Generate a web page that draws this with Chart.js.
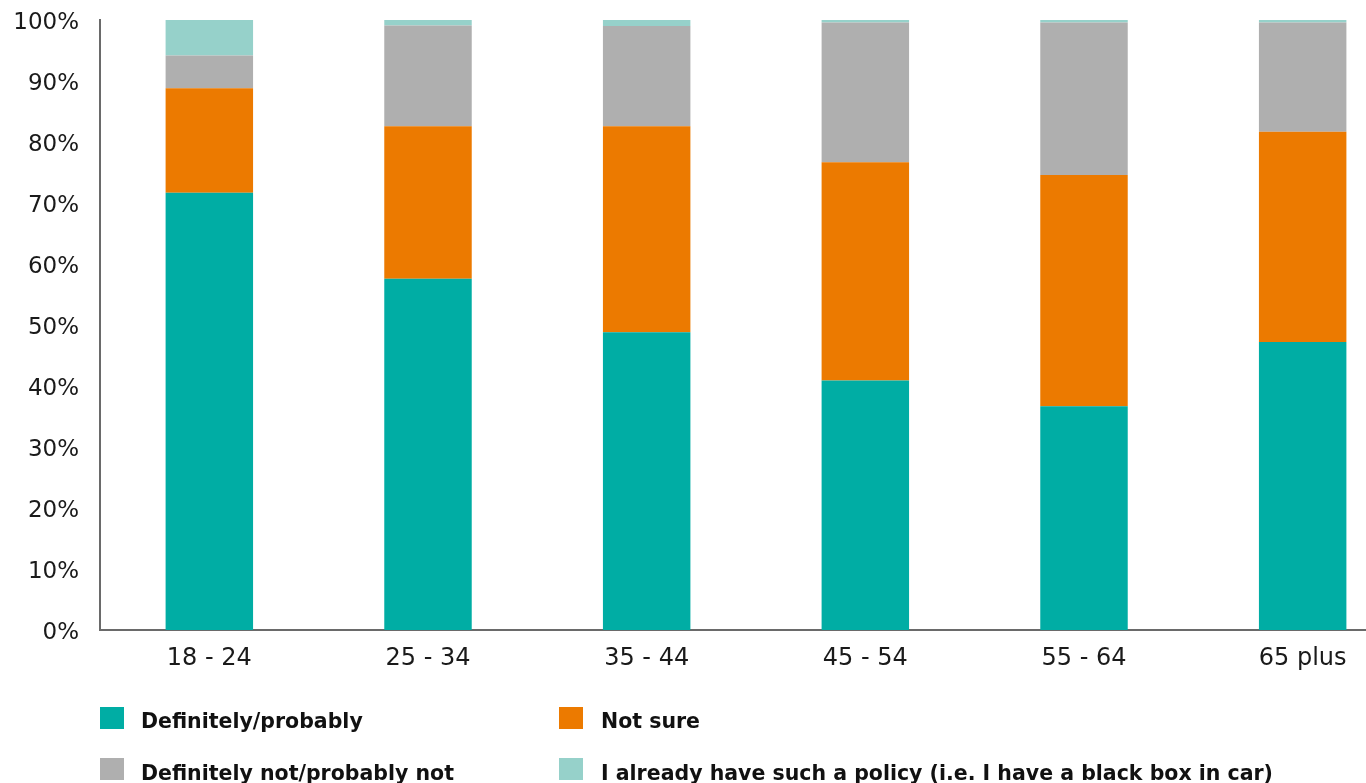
<!DOCTYPE html>
<html>
<head>
<meta charset="utf-8">
<script src="https://cdn.jsdelivr.net/npm/chart.js@4.4.1/dist/chart.umd.min.js"></script>
<style>
  html, body { margin: 0; padding: 0; background: #fff; overflow: hidden; width: 1366px; height: 783px; }
  #wrap { position: absolute; left: 0; top: 0; width: 1420px; height: 700px; }
  #legend { position: absolute; left: 0; top: 0; width: 1366px; height: 783px; pointer-events: none; }
  .sw { position: absolute; width: 24px; height: 22px; }
  .lbl { position: absolute; font-family: "DejaVu Sans", sans-serif; font-weight: bold; font-size: 20.5px; line-height: 22px; color: #111; white-space: nowrap; }
</style>
</head>
<body>
<div id="wrap"><canvas id="c"></canvas></div>
<div id="legend"></div>
<script>
const categories = ['18 - 24', '25 - 34', '35 - 44', '45 - 54', '55 - 64', '65 plus'];
const seriesNames = ['Definitely/probably', 'Not sure', 'Definitely not/probably not', 'I already have such a policy (i.e. I have a black box in car)'];
const definitelyProbably = [71.7, 57.6, 48.8, 40.9, 36.7, 47.2];
const notSure = [17.1, 25.0, 33.8, 35.8, 37.9, 34.5];
const definitelyNot = [5.4, 16.5, 16.4, 22.9, 25.0, 17.9];
const alreadyHave = [5.8, 0.9, 1.0, 0.4, 0.4, 0.4];
const yTickValues = [0, 10, 20, 30, 40, 50, 60, 70, 80, 90, 100];
const colors = ['#00ADA4', '#EC7A00', '#AFAFAF', '#96D1CA'];

const seriesData = [definitelyProbably, notSure, definitelyNot, alreadyHave];

const datasets = seriesData.map((d, i) => ({
  label: seriesNames[i],
  data: d,
  backgroundColor: colors[i],
  borderWidth: 0,
  categoryPercentage: 1.0,
  barPercentage: 0.4
}));

new Chart(document.getElementById('c'), {
  type: 'bar',
  data: { labels: categories, datasets },
  options: {
    responsive: true,
    maintainAspectRatio: false,
    animation: false,
    layout: { padding: { top: 20, right: 8, left: 0, bottom: 0 } },
    plugins: { legend: { display: false }, tooltip: { enabled: false } },
    scales: {
      x: {
        stacked: true,
        grid: { display: false, drawTicks: false },
        border: { display: true, color: '#6a6a6a', width: 2 },
        ticks: {
          color: '#1a1a1a',
          font: { family: '"DejaVu Sans", sans-serif', size: 24 },
          padding: 14,
          maxRotation: 0
        },
        afterFit: (s) => { s.height = 70; s.paddingLeft = 0; s.paddingRight = 0; }
      },
      y: {
        stacked: true,
        min: 0,
        max: 100,
        afterBuildTicks: (s) => { s.ticks = yTickValues.map(v => ({ value: v })); },
        grid: { display: false, drawTicks: false },
        border: { display: true, color: '#6a6a6a', width: 2 },
        ticks: {
          color: '#1a1a1a',
          font: { family: '"DejaVu Sans", sans-serif', size: 23 },
          padding: 21,
          labelOffset: 3,
          callback: (v) => v + '%'
        },
        afterFit: (s) => { s.width = 100; s.paddingTop = 0; s.paddingBottom = 0; }
      }
    }
  }
});

// HTML legend built from the same series names/colours
const legendPos = [
  { sx: 100, sy: 707, tx: 141, ty: 710 },
  { sx: 559, sy: 707, tx: 601, ty: 710 },
  { sx: 100, sy: 758, tx: 141, ty: 762 },
  { sx: 559, sy: 758, tx: 601, ty: 762 }
];
const leg = document.getElementById('legend');
seriesNames.forEach((name, i) => {
  const p = legendPos[i];
  const sw = document.createElement('div');
  sw.className = 'sw';
  sw.style.left = p.sx + 'px';
  sw.style.top = p.sy + 'px';
  sw.style.background = colors[i];
  leg.appendChild(sw);
  const t = document.createElement('div');
  t.className = 'lbl';
  t.style.left = p.tx + 'px';
  t.style.top = p.ty + 'px';
  t.textContent = name;
  leg.appendChild(t);
});
</script>
</body>
</html>
